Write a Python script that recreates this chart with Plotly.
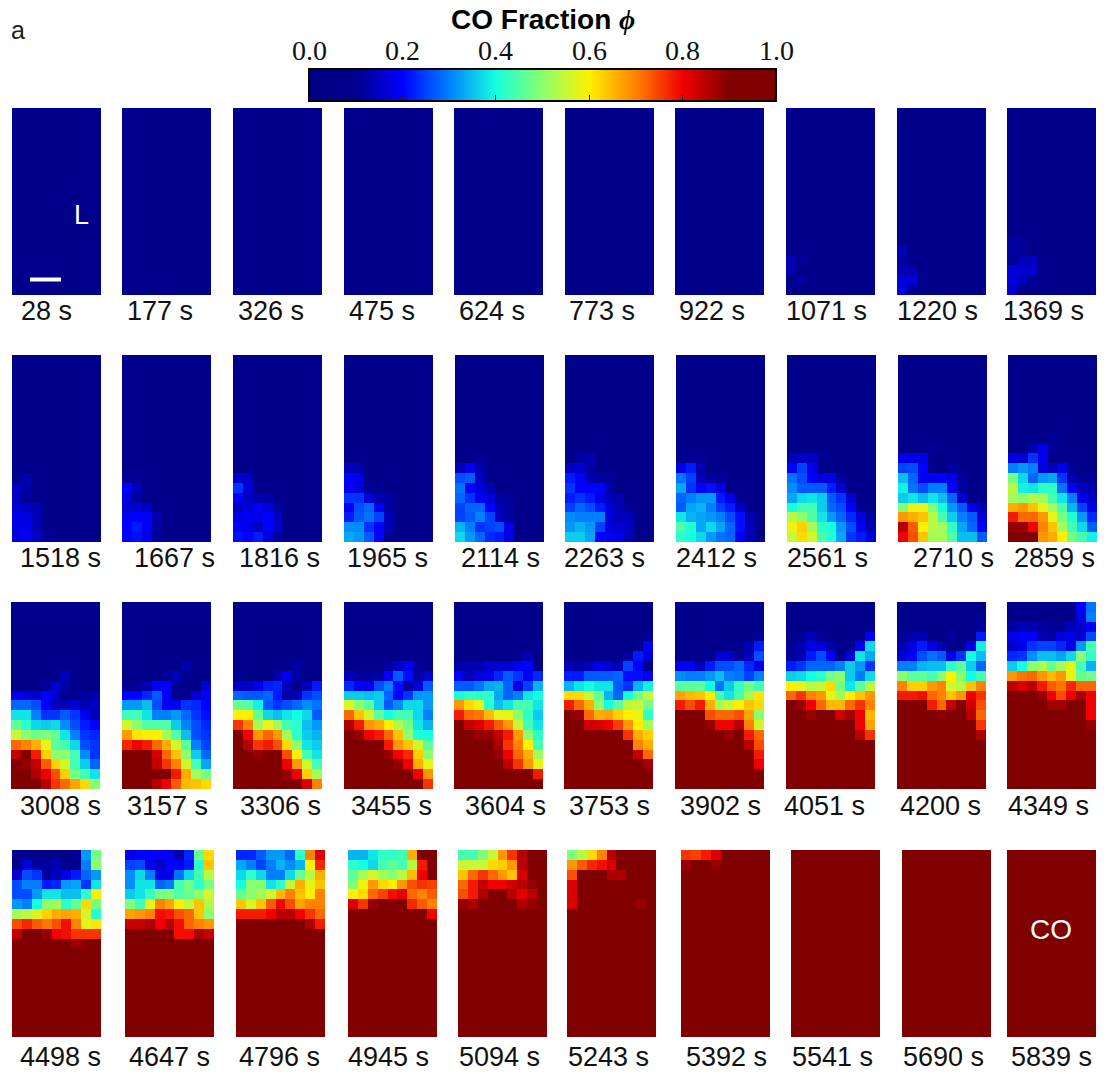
import plotly.graph_objects as go

# ---- DATA: CO fraction (percent) for every pixel, rows listed top to bottom ----
N = [8] * 9    # all navy row
R = [95] * 9   # all dark red row

times = [28, 177, 326, 475, 624, 773, 922, 1071, 1220, 1369,
         1518, 1667, 1816, 1965, 2114, 2263, 2412, 2561, 2710, 2859,
         3008, 3157, 3306, 3455, 3604, 3753, 3902, 4051, 4200, 4349,
         4498, 4647, 4796, 4945, 5094, 5243, 5392, 5541, 5690, 5839]

P_EMPTY = [N] * 19
P_1071 = [N]*15 + [[14,11,8,8,8,8,8,8,8],[13,10,8,8,8,8,8,8,8],[10,12,8,8,8,8,8,8,8],N]
P_1220 = [N]*14 + [[14,8,8,8,8,8,8,8,8],[12,8,8,8,8,8,8,8,8],[13,13,8,8,8,8,8,8,8],[17,17,8,8,8,8,8,8,8],[17,11,8,8,8,8,8,8,8]]
P_1369 = [N]*13 + [[12,11,8,8,8,8,8,8,8],[12,11,8,8,8,8,8,8,8],[11,14,14,8,8,8,8,8,8],[17,16,16,8,8,8,8,8,8],[17,14,11,8,8,8,8,8,8],[16,9,8,8,8,8,8,8,8]]
P_1518 = [N]*12 + [[8,13,8,8,8,8,8,8,8],[15,12,8,8,8,8,8,8,8],[15,11,8,8,8,8,8,8,8],[16,15,13,8,8,8,8,8,8],[18,17,14,8,8,8,8,8,8],[18,18,14,10,8,8,8,8,8],[17,19,15,11,8,8,8,8,8]]
P_1667 = [N]*12 + [[11,11,8,8,8,8,8,8,8],[20,14,8,8,8,8,8,8,8],[17,12,8,8,8,8,8,8,8],[16,16,15,8,8,8,8,8,8],[19,20,19,13,8,8,8,8,8],[20,22,19,12,10,8,8,8,8],[19,21,18,11,8,8,8,8,8]]
P_1816 = [N]*11 + [[8,9,8,8,8,8,8,8,8],[16,15,8,8,8,8,8,8,8],[24,16,9,8,8,8,8,8,8],[19,15,13,12,8,8,8,8,8],[15,17,19,17,12,8,8,8,8],[18,19,18,20,15,10,8,8,8],[20,18,15,20,16,8,8,8,8],[21,20,22,17,12,8,8,8,8]]
P_1965 = [N]*11 + [[14,13,8,8,8,8,8,8,8],[20,18,8,8,8,8,8,8,8],[19,17,11,8,8,8,8,8,8],[24,24,17,13,12,8,8,8,8],[19,26,28,19,12,8,8,8,8],[22,27,29,25,14,8,8,8,8],[31,31,24,20,14,8,8,8,8],[33,32,27,20,11,8,8,8,8]]
P_2114 = [N]*10 + [[8,8,11,8,8,8,8,8,8],[14,19,13,8,8,8,8,8,8],[26,27,14,8,8,8,8,8,8],[29,20,17,13,8,8,8,8,8],[28,24,19,17,12,11,8,8,8],[25,28,28,20,14,12,8,8,8],[25,27,30,25,15,12,8,8,8],[34,30,24,25,26,18,10,8,8],[37,32,28,23,22,18,8,8,8]]
P_2263 = [N]*10 + [[10,12,13,8,8,8,8,8,8],[15,16,12,8,8,8,8,8,8],[22,19,13,12,11,8,8,8,8],[24,20,20,20,13,10,8,8,8],[22,24,22,18,14,13,8,8,8],[25,28,26,22,17,14,11,8,8],[31,30,30,30,17,14,14,10,8],[32,34,32,25,17,16,15,9,9],[36,36,33,20,19,18,14,9,9]]
P_2412 = [N]*10 + [[9,11,11,8,8,8,8,8,8],[18,22,13,8,8,8,8,8,8],[29,25,14,12,11,8,8,8,8],[33,24,20,21,18,10,8,8,8],[28,30,32,32,22,18,11,8,8],[27,33,34,30,25,22,15,9,8],[38,34,33,32,30,26,21,13,8],[45,41,33,37,33,28,21,14,10],[42,40,37,32,29,28,20,13,10]]
P_2561 = [N]*10 + [[14,15,15,11,8,8,8,8,8],[20,25,18,10,8,8,8,8,8],[29,26,20,17,18,12,8,8,8],[31,27,27,27,22,16,10,8,8],[33,37,38,36,27,24,16,8,8],[40,44,44,36,28,26,20,11,8],[54,50,45,38,32,28,23,17,12],[59,63,52,42,40,32,26,19,13],[55,62,56,44,41,33,24,22,17]]
P_2710 = [N]*8 + [[8,8,8,8,9,8,8,8,8],[8,8,8,11,8,8,8,8,8],[18,18,18,9,8,8,8,8,8],[25,26,20,10,9,12,8,8,8],[35,28,19,19,20,18,11,9,8],[39,29,26,30,30,20,12,8,8],[36,38,35,38,35,28,16,9,9],[49,58,58,49,40,32,27,18,14],[68,66,64,54,44,36,30,27,16],[85,73,60,54,52,42,33,28,20],[80,74,64,52,52,45,35,35,27]]
P_2859 = [N]*8 + [[8,8,8,8,11,9,8,8,8],[8,8,13,18,11,8,8,8,8],[18,16,24,18,9,9,10,8,8],[30,32,30,17,14,18,11,8,8],[48,37,28,32,33,24,13,11,11],[54,39,38,42,42,29,19,14,13],[52,50,53,52,44,38,30,18,15],[66,68,64,58,52,45,34,25,18],[78,72,72,68,58,48,41,32,23],[88,88,80,70,64,52,44,37,27],[94,94,90,68,66,60,48,44,39]]
P_3008 = [N]*7 + [[8,8,8,8,8,14,10,9,8],[8,8,8,11,16,13,9,9,10],[18,17,16,20,16,10,10,12,13],[28,28,26,20,14,14,16,13,15],[38,38,30,24,24,27,24,19,14],[46,42,37,36,37,31,26,22,20],[55,50,48,49,47,38,30,24,23],[72,70,66,58,46,44,37,26,24],[84,90,78,63,50,50,44,31,24],[90,88,84,73,63,56,44,36,28],[94,92,86,80,74,63,48,44,38],[95,95,92,85,76,72,67,62,50]]
P_3157 = [N]*6 + [[8,8,8,8,8,8,13,8,8],[8,8,8,8,11,14,8,8,8],[11,11,13,19,20,11,9,9,16],[20,20,23,27,20,10,10,16,19],[32,32,35,26,19,19,24,23,20],[43,44,38,30,30,32,28,24,21],[56,50,45,45,45,36,30,26,23],[68,61,60,60,52,45,35,26,24],[77,80,78,72,66,56,46,30,25],[92,95,95,83,72,64,50,36,28],[95,95,95,84,76,70,56,44,33],[95,95,95,94,90,78,66,52,48],[95,93,93,85,80,73,65,64,62]]
P_3306 = [N]*6 + [[8,8,8,8,8,10,12,10,8],[11,10,10,10,13,18,12,8,10],[15,15,18,22,23,14,9,14,22],[28,27,27,28,22,12,14,24,26],[47,45,39,27,24,26,28,31,29],[60,60,47,37,35,38,40,37,27],[76,70,52,58,52,44,42,35,32],[92,80,68,72,68,52,42,36,34],[92,85,76,78,74,62,50,38,36],[94,94,88,92,90,74,60,44,38],[94,94,94,94,94,80,68,56,44],[95,95,95,95,95,88,80,63,52],[95,95,95,95,95,95,95,82,70]]
P_3455 = [N]*5 + [[8,8,8,8,8,8,8,9,8],[8,8,8,9,12,15,19,11,9],[14,12,12,12,20,27,21,12,16],[23,20,19,26,30,21,12,17,27],[36,36,35,36,28,20,24,32,32],[57,50,46,36,27,31,37,37,32],[72,64,56,46,40,44,44,37,30],[86,78,68,66,60,53,48,38,34],[95,88,80,78,72,64,50,41,40],[95,95,95,95,78,68,64,56,46],[95,95,95,95,88,80,77,63,50],[95,95,95,95,90,88,80,66,58],[95,95,95,95,95,95,95,80,68],[95,95,95,95,95,95,95,95,76]]
P_3604 = [N]*4 + [[8,8,8,8,8,8,8,8,11],[8,8,9,8,8,8,11,13,9],[13,13,13,16,16,16,19,20,10],[19,14,17,18,23,27,24,19,23],[27,27,29,33,34,28,17,25,34],[40,42,42,42,33,28,30,38,40],[68,62,58,41,35,38,44,44,38],[78,72,71,65,58,58,50,42,36],[92,84,82,78,73,68,55,44,38],[94,90,88,88,84,78,68,50,42],[95,95,95,95,86,76,70,60,44],[95,95,95,95,88,80,72,66,52],[95,95,95,95,95,85,76,68,58],[95,95,95,95,95,95,95,90,78],[95,95,95,91,95,95,95,95,95]]
P_3753 = [N]*3 + [[8,8,8,8,8,8,8,8,11],[8,8,8,8,8,8,8,9,19],[8,8,10,10,9,9,12,22,17],[14,12,14,18,16,14,25,20,10],[22,22,27,27,27,28,21,21,20],[34,38,40,38,38,27,24,34,39],[62,62,55,47,34,28,40,48,55],[78,72,66,50,40,46,54,55,48],[95,88,72,66,67,63,60,58,42],[95,95,83,82,80,75,68,60,52],[95,95,95,90,90,90,76,66,63],[95,95,95,95,95,93,91,70,66],[95,95,95,95,95,95,95,84,72],[95,95,95,95,95,95,95,95,87],R,[95,95,95,95,95,91,95,95,95]]
P_3902 = [N]*3 + [[8,8,8,8,8,8,8,8,11],[8,8,9,9,8,8,8,13,22],[8,8,9,11,16,16,11,14,26],[19,19,14,22,26,26,28,23,18],[31,30,30,32,35,30,29,25,30],[46,46,46,40,29,36,43,48,44],[67,65,64,60,44,38,44,52,61],[78,74,78,66,52,55,60,64,62],[95,90,90,74,72,72,74,67,50],[95,95,95,88,80,80,85,70,56],[95,95,95,95,92,88,92,78,72],[95,95,95,95,95,95,95,85,74],[95,95,95,95,95,95,95,90,78],[95,95,95,95,95,95,95,91,80],[95,95,95,95,95,95,95,95,93],R,R]
P_3902 = P_3902[:19]
P_4051 = [N]*3 + [[8,11,14,11,8,8,8,8,20],[11,13,18,17,13,9,10,20,37],[11,13,22,26,20,10,17,38,33],[22,24,28,28,28,30,36,32,24],[36,37,40,42,48,50,36,30,37],[60,58,54,55,62,48,38,46,54],[72,76,70,68,58,52,60,64,68],[95,88,80,72,65,65,72,76,70],[95,95,88,92,90,83,87,80,65],[95,95,95,95,95,95,95,80,67],[95,95,95,95,95,95,94,85,76],[95,95,95,95,95,95,95,95,90],R,R,R,R]
P_4200 = [[8,8,8,8,8,8,8,8,10],[8,8,8,8,8,8,8,8,11],[9,8,8,8,8,8,9,8,11],[11,13,13,9,9,11,10,10,22],[13,18,22,17,13,9,9,18,39],[16,20,26,29,27,18,24,40,35],[30,30,34,35,35,42,46,36,28],[50,46,46,44,50,60,50,40,44],[70,63,63,68,70,56,54,64,70],[78,78,79,72,70,64,68,80,76],[95,95,95,78,72,84,90,83,74],[95,95,95,92,89,95,92,85,72],[95,95,95,95,95,95,95,91,76],[95,95,95,95,95,95,95,95,86],R,R,R,R,R]
P_4349 = [[9,9,9,9,9,9,9,20,29],[8,9,9,9,9,9,9,18,30],[12,14,13,12,11,11,14,15,19],[18,20,20,13,12,17,18,16,26],[16,18,24,25,25,23,18,32,44],[23,24,31,35,35,33,37,50,42],[36,40,50,53,47,52,58,44,34],[68,71,72,68,65,68,58,47,48],[85,82,85,78,73,71,77,72,72],[95,95,92,88,80,74,80,86,80],[95,95,95,92,87,87,91,95,80],[95,95,95,95,95,95,95,95,80],[95,95,95,95,95,95,95,95,88],R,R,R,R,R,R]
P_4498 = [[8,10,9,10,10,9,11,32,48],[10,17,12,12,14,10,10,30,50],[16,26,24,12,14,18,22,28,32],[26,30,30,22,23,32,33,24,38],[26,26,32,38,38,35,35,42,60],[32,30,40,50,52,42,47,62,48],[52,54,57,63,66,67,66,56,41],[74,77,73,71,74,79,70,58,61],[84,91,93,88,80,79,76,76,76],[95,95,95,95,91,93,87,90,94],[95,95,95,95,95,95,95,91,94],[95,95,95,95,95,95,95,95,92],[95,95,95,95,95,95,95,95,90],[95,95,95,95,95,95,95,95,92],R,R,R,R,[95,91,95,95,95,95,95,95,95]]
P_4647 = [[18,20,20,20,20,13,23,47,62],[25,26,19,15,20,19,22,42,64],[31,37,30,18,18,29,37,44,54],[31,38,38,28,30,44,48,42,48],[36,38,43,48,49,45,47,50,56],[49,44,58,70,67,60,55,64,53],[67,68,70,79,78,74,72,64,50],[84,84,86,80,85,79,72,70,68],[95,95,95,95,90,79,79,86,84],[95,95,95,95,95,91,93,90,93],[95,95,95,95,95,95,95,91,93],R,R,R,R,R,R,R,R]
P_4796 = [[23,23,27,32,32,28,42,70,82],[33,30,25,30,34,31,34,60,77],[37,42,37,30,30,37,47,54,66],[40,50,50,38,42,55,66,58,64],[47,50,52,56,65,70,64,60,70],[64,57,64,73,80,74,67,70,70],[78,78,78,80,85,85,80,76,72],[95,95,95,95,95,95,95,86,78],R,R,R,R,R,R,R,R,R,R,R]
P_4945 = [[34,34,38,42,42,44,66,90,94],[42,40,37,44,46,44,54,78,95],[46,52,56,52,50,54,65,80,90],[49,59,68,62,60,68,74,76,75],[60,62,72,75,79,81,72,70,73],[82,76,88,95,95,95,77,73,70],[95,95,95,95,95,95,95,90,80],R,R,R,R,R,R,R,R,R,R,R,R]
P_5094 = [[44,44,49,55,68,76,85,95,95],[55,55,55,62,63,68,85,95,95],[64,72,76,72,68,64,82,95,95],[72,78,84,80,80,83,85,88,95],[74,78,86,95,93,85,81,85,90],[88,86,95,95,95,90,86,88,92],R,[95,95,95,95,95,95,95,95,90],R,R,R,R,R,R,R,R,R,R,R]
P_5243 = [[49,54,62,70,85,95,95,95,95],[68,73,77,79,82,95,95,95,95],[74,90,94,92,86,86,95,95,95],[82,95,95,95,95,95,95,95,95],[82,95,95,95,95,95,95,92,95],[82,95,95,95,95,95,92,88,95],R,R,R,R,R,R,R,R,R,R,R,R,R]
P_5392 = [[76,75,78,82,95,95,95,95,95],[88,90,90,88,95,95,95,95,95],R,R,R,R,R,R,R,R,R,R,[91,95,95,95,95,95,95,95,95],[93,95,95,95,95,95,95,95,95],R,R,R,R,R]
P_5541 = [R] * 19
P_5690 = [R]*18 + [[95,95,95,95,95,95,95,95,92]]
P_5839 = [R] * 19

panels = [P_EMPTY]*7 + [P_1071, P_1220, P_1369, P_1518, P_1667, P_1816, P_1965, P_2114,
          P_2263, P_2412, P_2561, P_2710, P_2859, P_3008, P_3157, P_3306, P_3455, P_3604,
          P_3753, P_3902, P_4051, P_4200, P_4349, P_4498, P_4647, P_4796, P_4945, P_5094,
          P_5243, P_5392, P_5541, P_5690, P_5839]

# ---- layout, in page pixels ----
W, H = 1107, 1074
PW, PH = 89, 187
left = [[12,122,233,344,454,565,675,786,897,1007],
        [12,122,233,344,455,565,676,787,898,1008],
        [11,122,233,344,454,564,675,786,897,1007],
        [12,125,236,348,458,567,681,791,902,1007]]
top = [108, 355, 602, 850]
label_cx = [[46,160,271,382,492,602,712,826,937,1043],
            [60,174,279,387,500,604,716,827,953,1054],
            [60,167,280,391,505,609,720,825,940,1048],
            [60,169,279,388,499,608,727,832,943,1051]]
label_y = [311, 558, 806, 1057]

stops = [[0.0,"#000085"],[0.1,"#00008b"],[0.2,"#0000ff"],[0.3,"#0080ff"],[0.4,"#14ffe1"],
         [0.5,"#8cff6e"],[0.6,"#fff000"],[0.7,"#ff8200"],[0.8,"#f00000"],[0.9,"#800000"],[1.0,"#800000"]]
tick_vals = [0.0, 0.2, 0.4, 0.6, 0.8, 1.0]
CB_X0, CB_X1, CB_Y0, CB_Y1 = 309, 776, 68, 100
CB_OFFSET = 10  # plotly draws the bar this far above the requested anchor

px = lambda x: x / W
py = lambda y: 1 - y / H

fig = go.Figure()
layout = {}
annotations = []
for i, (t, z) in enumerate(zip(times, panels)):
    r, c = divmod(i, 10)
    n = i + 1
    fig.add_trace(go.Heatmap(z=[[v / 100 for v in row] for row in z], coloraxis="coloraxis",
                             xaxis=f"x{n}", yaxis=f"y{n}", xgap=0, ygap=0,
                             hovertemplate=f"{t} s: %{{z:.2f}}<extra></extra>"))
    x0 = left[r][c]
    y0 = top[r]
    layout[f"xaxis{n}"] = dict(domain=[px(x0), px(x0 + PW)], visible=False, anchor=f"y{n}", fixedrange=True)
    layout[f"yaxis{n}"] = dict(domain=[py(y0 + PH), py(y0)], visible=False, anchor=f"x{n}",
                               autorange="reversed", fixedrange=True)
    annotations.append(dict(text=f"{t} s", x=px(label_cx[r][c]), y=py(label_y[r]), xref="paper", yref="paper",
                            showarrow=False, xanchor="center", yanchor="middle",
                            font=dict(family="Liberation Sans", size=27, color="#111111")))

def text(s, x, y, size, color="#000000", family="Liberation Sans"):
    annotations.append(dict(text=s, x=px(x), y=py(y), xref="paper", yref="paper", showarrow=False,
                            xanchor="center", yanchor="middle", font=dict(family=family, size=size, color=color)))

text("a", 18, 30, 25, "#222222")
text("<b>CO Fraction</b> <i><b><span style='font-family:Liberation Serif'>\u03d5</span></b></i>", 543, 20, 28)
text("L", 81, 215, 27, "#ffffff")
text("CO", 1051, 929, 28, "#ffffff")
for v in tick_vals:
    text(f"{v:.1f}", CB_X0 + v * (CB_X1 - CB_X0), 51, 28, "#111111", "Liberation Serif")

shapes = [dict(type="line", xref="paper", yref="paper", x0=px(30), x1=px(61), y0=py(279.5), y1=py(279.5),
               line=dict(color="#ffffff", width=4))]
for v in tick_vals[1:-1]:
    xt = CB_X0 + v * (CB_X1 - CB_X0)
    shapes.append(dict(type="line", xref="paper", yref="paper", x0=px(xt), x1=px(xt),
                       y0=py(CB_Y0), y1=py(CB_Y0 + 7), line=dict(color="#222222", width=1)))

fig.update_layout(
    width=W, height=H, margin=dict(l=0, r=0, t=0, b=0, autoexpand=False), paper_bgcolor="#ffffff", plot_bgcolor="#ffffff",
    annotations=annotations, shapes=shapes,
    coloraxis=dict(
        colorscale=stops, cmin=0, cmax=1,
        colorbar=dict(
            orientation="h", lenmode="pixels", len=CB_X1 - CB_X0, thicknessmode="pixels", thickness=CB_Y1 - CB_Y0,
            xref="container", yref="container", x=(CB_X0 + CB_X1) / 2 / W, xanchor="center",
            y=1 - (CB_Y1 + CB_OFFSET) / H, yanchor="bottom", xpad=0, ypad=0,
            tickmode="array", tickvals=tick_vals, showticklabels=False,
            ticks="inside", ticklen=7, tickwidth=1, tickcolor="#222222",
            outlinewidth=2, outlinecolor="#000000", borderwidth=0,
        ),
    ),
    **layout,
)

fig.write_html("out.html", config={"displayModeBar": False},
               post_script="document.body.style.margin='0';document.body.style.overflow='hidden';")
